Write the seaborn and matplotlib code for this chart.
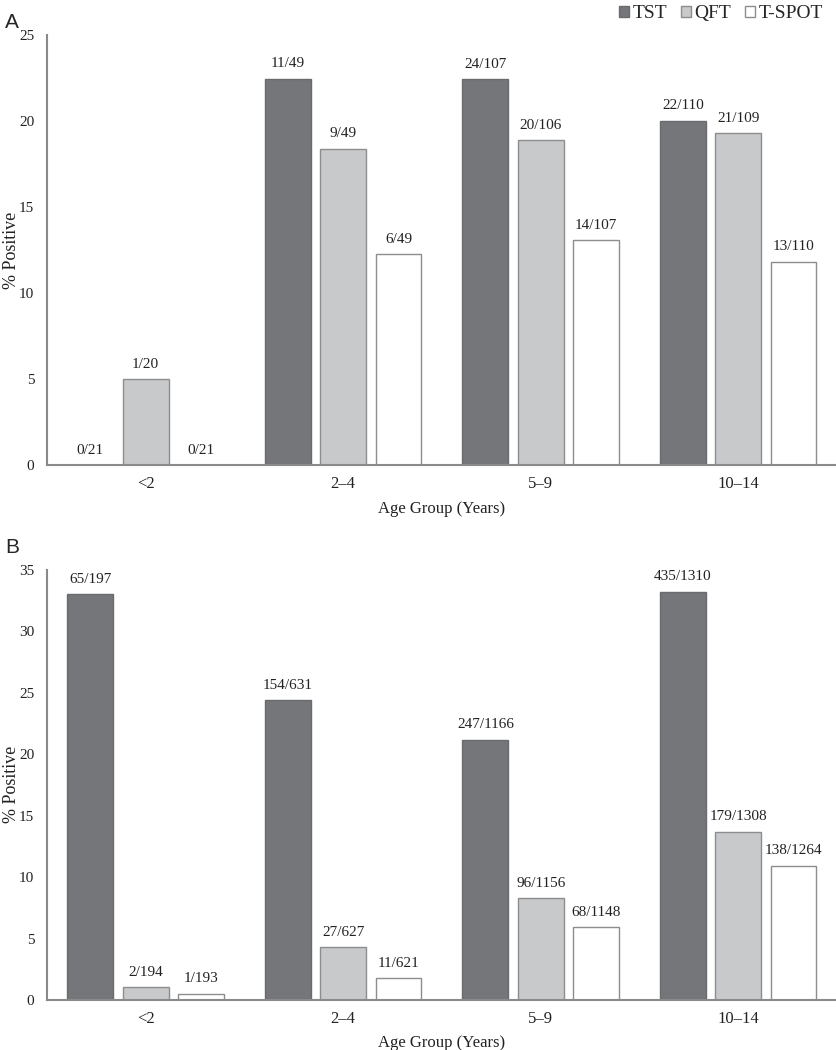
import matplotlib
matplotlib.use("Agg")
import matplotlib.pyplot as plt
import seaborn as sns
import pandas as pd
from matplotlib.patches import Patch

ages = ["<2", "2\u20134", "5\u20139", "10\u201314"]
tests = ["TST", "QFT", "T-SPOT"]

# Panel A values (% positive) and labels
a_tst = [0.0, 22.45, 22.43, 20.0]
a_qft = [5.0, 18.37, 18.87, 19.27]
a_tspot = [0.0, 12.24, 13.08, 11.82]
a_tst_lbl = ["0/21", "11/49", "24/107", "22/110"]
a_qft_lbl = ["1/20", "9/49", "20/106", "21/109"]
a_tspot_lbl = ["0/21", "6/49", "14/107", "13/110"]

# Panel B values (% positive) and labels
b_tst = [33.0, 24.4, 21.18, 33.21]
b_qft = [1.03, 4.31, 8.30, 13.68]
b_tspot = [0.52, 1.77, 5.92, 10.92]
b_tst_lbl = ["65/197", "154/631", "247/1166", "435/1310"]
b_qft_lbl = ["2/194", "27/627", "96/1156", "179/1308"]
b_tspot_lbl = ["1/193", "11/621", "68/1148", "138/1264"]

a_ticks = [0, 5, 10, 15, 20, 25]
b_ticks = [0, 5, 10, 15, 20, 25, 30, 35]

sns.set_theme(style="white")
plt.rcParams["font.family"] = ["Liberation Serif", "DejaVu Serif"]

face = {"TST": "#757679", "QFT": "#c8c9cb", "T-SPOT": "#ffffff"}
edge = {"TST": "#6a6b6e", "QFT": "#8c8d8f", "T-SPOT": "#8c8d8f"}
spine_col = "#8a8a8a"
txt = "#222222"

fig = plt.figure(figsize=(8.37, 10.5), dpi=100)
axA = fig.add_axes([0.056, 0.557, 0.944, 0.41])
axB = fig.add_axes([0.056, 0.0476, 0.944, 0.41])


def make_panel(ax, tst, qft, tspot, labels, ymax, ticks):
    df = pd.DataFrame({
        "age": ages * 3,
        "test": [t for t in tests for _ in ages],
        "val": list(tst) + list(qft) + list(tspot),
    })
    sns.barplot(data=df, x="age", y="val", hue="test", order=ages,
                hue_order=tests, palette=face, width=0.84, gap=0.17,
                ax=ax, legend=False, linewidth=1.0, saturation=1)
    for cont, t, lbl in zip(ax.containers, tests, labels):
        for p in cont:
            p.set_edgecolor(edge[t])
            p.set_linewidth(1.0)
        ax.bar_label(cont, labels=lbl, padding=6, fontsize=11, color=txt)
    ax.set_ylim(0, ymax)
    ax.set_xlim(-0.5, 3.5)
    ax.set_yticks(ticks)
    ax.set_yticklabels([str(t) for t in ticks])
    ax.tick_params(axis="both", length=0, colors=txt)
    ax.tick_params(axis="y", pad=9, labelsize=11)
    ax.tick_params(axis="x", pad=8, labelsize=12)
    ax.set_xlabel("Age Group (Years)", fontsize=12, color=txt, labelpad=6)
    ax.set_ylabel("% Positive", fontsize=13, color=txt)
    ax.yaxis.set_label_coords(-0.0345, 0.5)
    for s in ["top", "right"]:
        ax.spines[s].set_visible(False)
    for s in ["left", "bottom"]:
        ax.spines[s].set_color(spine_col)
        ax.spines[s].set_linewidth(1.5)
    ax.set_facecolor("white")


make_panel(axA, a_tst, a_qft, a_tspot, [a_tst_lbl, a_qft_lbl, a_tspot_lbl], 25, a_ticks)
make_panel(axB, b_tst, b_qft, b_tspot, [b_tst_lbl, b_qft_lbl, b_tspot_lbl], 35, b_ticks)

fig.text(0.006, 0.988, "A", fontsize=15, family="Liberation Sans", va="top", ha="left")
fig.text(0.006, 0.488, "B", fontsize=15, family="Liberation Sans", va="top", ha="left")

handles = [Patch(facecolor=face[t], edgecolor=edge[t], linewidth=1.0, label=t) for t in tests]
fig.legend(handles=handles, loc="upper right", bbox_to_anchor=(0.997, 1.006), ncol=3,
           frameon=False, fontsize=14, handlelength=0.5, handleheight=0.5,
           handletextpad=0.2, columnspacing=0.7, borderaxespad=0.2)

fig.savefig("out.png", dpi=100, facecolor="white")
